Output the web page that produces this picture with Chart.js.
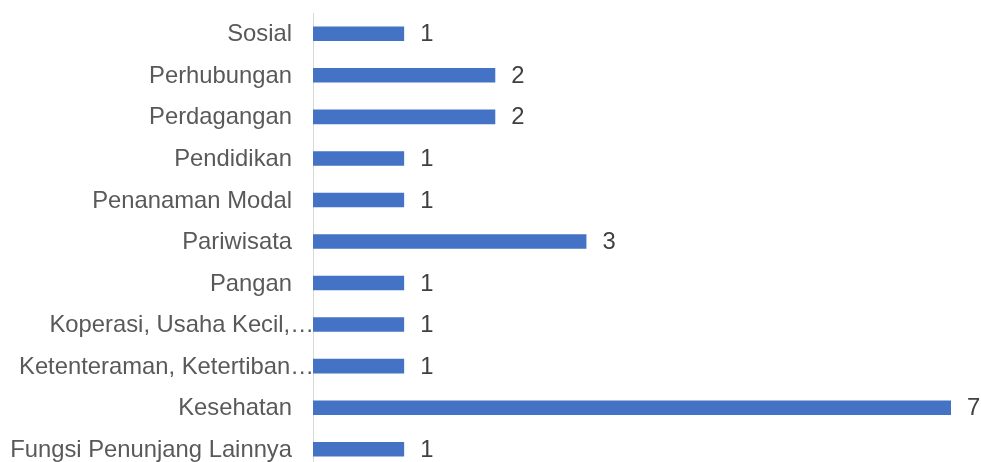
<!DOCTYPE html>
<html>
<head>
<meta charset="utf-8">
<script src="https://cdn.jsdelivr.net/npm/chart.js@4.4.1/dist/chart.umd.min.js"></script>
<style>
  html, body { margin: 0; padding: 0; background: #ffffff; overflow: hidden; }
  #wrap { position: relative; width: 981px; height: 470px; }
</style>
</head>
<body>
<div id="wrap"><canvas id="chart"></canvas></div>
<script>
// Jumlah urusan per bidang
const categories = [
  'Sosial',
  'Perhubungan',
  'Perdagangan',
  'Pendidikan',
  'Penanaman Modal',
  'Pariwisata',
  'Pangan',
  'Koperasi, Usaha Kecil,\u2026',
  'Ketenteraman, Ketertiban\u2026',
  'Kesehatan',
  'Fungsi Penunjang Lainnya'
];
const values = [1, 2, 2, 1, 1, 3, 1, 1, 1, 7, 1];

const FONT = '23.8px "Liberation Sans", Arial, sans-serif';

// Category names drawn at the left of the axis; shortened names run up to the axis line
const categoryLabels = {
  id: 'categoryLabels',
  afterDraw(chart) {
    const { ctx, chartArea } = chart;
    const yScale = chart.scales.y;
    ctx.save();
    ctx.font = FONT;
    ctx.fillStyle = '#595959';
    ctx.textAlign = 'right';
    ctx.textBaseline = 'middle';
    categories.forEach((name, i) => {
      const y = yScale.getPixelForValue(i) + 1;
      const x = name.endsWith('\u2026') ? chartArea.left + 1 : chartArea.left - 21;
      ctx.fillText(name, x, y);
    });
    ctx.restore();
  }
};

// Value printed just past the end of each bar
const valueLabels = {
  id: 'valueLabels',
  afterDatasetsDraw(chart) {
    const { ctx } = chart;
    const meta = chart.getDatasetMeta(0);
    ctx.save();
    ctx.font = FONT;
    ctx.fillStyle = '#404040';
    ctx.textAlign = 'left';
    ctx.textBaseline = 'middle';
    meta.data.forEach((bar, i) => {
      ctx.fillText(String(values[i]), bar.x + 16, bar.y + 1);
    });
    ctx.restore();
  }
};

new Chart(document.getElementById('chart'), {
  type: 'bar',
  data: {
    labels: categories,
    datasets: [{
      data: values,
      backgroundColor: '#4472C4',
      borderWidth: 0,
      barPercentage: 1,
      categoryPercentage: 0.35
    }]
  },
  options: {
    indexAxis: 'y',
    responsive: true,
    maintainAspectRatio: false,
    animation: false,
    layout: { padding: { left: 313, right: 30, top: 13, bottom: 0 } },
    plugins: {
      legend: { display: false },
      tooltip: { enabled: false }
    },
    scales: {
      x: {
        min: 0,
        max: 7,
        display: false
      },
      y: {
        grid: { display: false, drawTicks: false },
        border: { display: true, color: '#d9d9d9', width: 1 },
        ticks: { display: false }
      }
    }
  },
  plugins: [categoryLabels, valueLabels]
});
</script>
</body>
</html>
